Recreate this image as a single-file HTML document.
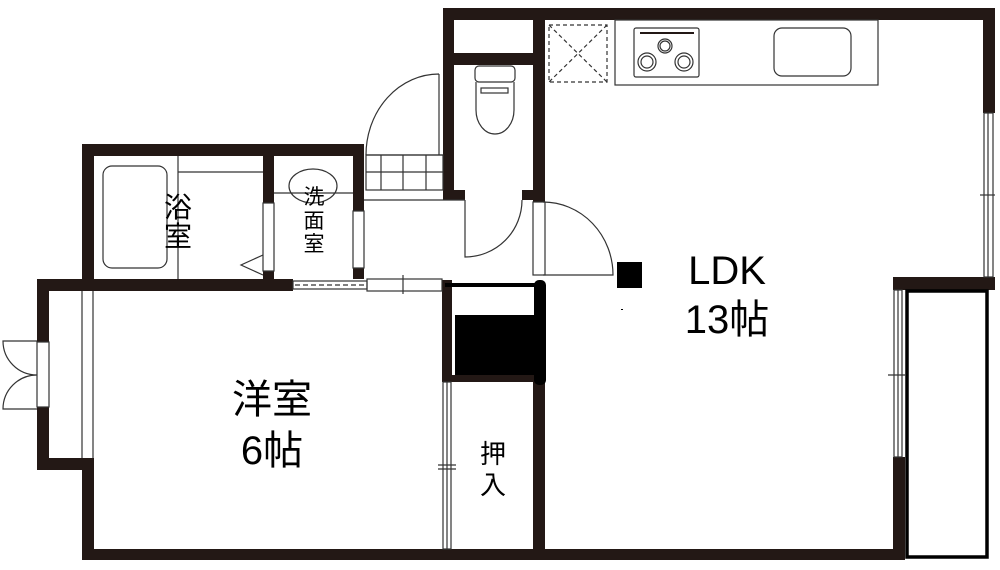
<!DOCTYPE html>
<html><head><meta charset="utf-8"><style>
html,body{margin:0;padding:0;background:#fff;}
svg{display:block;}
text{font-family:"Liberation Sans","Noto Sans CJK JP",sans-serif;fill:#000;}
</style></head><body>
<svg width="1000" height="570" viewBox="0 0 1000 570" xmlns="http://www.w3.org/2000/svg">
<g fill="#231815">
<!-- top block -->
<rect x="443" y="8" width="552" height="12"/>
<rect x="443" y="8" width="11" height="192"/>
<rect x="454" y="53" width="79" height="12"/>
<rect x="533" y="8" width="12" height="194"/>
<rect x="983" y="8" width="12" height="105"/>
<rect x="443" y="190" width="22" height="10"/>
<rect x="522" y="190" width="23" height="10"/>
<!-- right stub -->
<rect x="893" y="277" width="102" height="13"/>
<rect x="893" y="457" width="12" height="103"/>
<!-- bath block -->
<rect x="82" y="144" width="282" height="12"/>
<rect x="82" y="144" width="12" height="147"/>
<rect x="263" y="156" width="11" height="47"/>
<rect x="263" y="271" width="11" height="8"/>
<rect x="353" y="144" width="11" height="67"/>
<rect x="353" y="268" width="11" height="11"/>
<!-- western room -->
<rect x="37" y="279" width="256" height="12"/>
<rect x="37" y="279" width="12" height="63"/>
<rect x="37" y="407" width="12" height="63"/>
<rect x="37" y="458" width="57" height="12"/>
<rect x="82" y="458" width="12" height="102"/>
<rect x="82" y="549" width="823" height="11"/>
<rect x="442" y="280" width="10" height="102"/>
<rect x="442" y="375" width="100" height="7"/>
<rect x="533" y="375" width="12" height="180"/>
<!-- closet block -->
<rect x="455" y="315" width="80" height="60" fill="#000"/>
<rect x="534" y="280" width="12" height="105" rx="5" fill="#000"/>
<rect x="445" y="283" width="95" height="4" fill="#000"/>
<rect x="617" y="262" width="25" height="26" fill="#000"/>
<rect x="621" y="309" width="2" height="1" fill="#000"/>
</g>
<g fill="none" stroke="#333" stroke-width="1.2">
<!-- closet top small -->
<!-- toilet -->
<rect x="475" y="66" width="40" height="16" rx="4"/>
<rect x="481" y="88" width="27" height="5"/>
<path d="M476 82 L476 110 A19 24 0 0 0 514 110 L514 82"/>
<!-- entry door -->
<path d="M439 74 L439 155 M366 155 A73 81 0 0 1 439 74"/>
<line x1="366" y1="155" x2="443" y2="155"/>
<!-- tiles -->
<rect x="366" y="155" width="77" height="35"/>
<line x1="366" y1="172" x2="443" y2="172"/>
<line x1="381" y1="155" x2="381" y2="190"/><line x1="403" y1="155" x2="403" y2="190"/><line x1="426" y1="155" x2="426" y2="190"/>
<line x1="364" y1="200" x2="465" y2="200"/>
<!-- toilet door -->
<path d="M465 200 L465 257 A57 57 0 0 0 522 200"/>
<!-- bath -->
<rect x="103" y="166" width="64" height="102" rx="9"/>
<line x1="178" y1="156" x2="178" y2="279"/>
<line x1="178" y1="172" x2="263" y2="172"/>
<path d="M263 255 L241 265 L263 275"/>
<rect x="263" y="203" width="11" height="68"/>
<!-- wash -->
<ellipse cx="313" cy="186" rx="24" ry="17"/>
<line x1="274" y1="193" x2="353" y2="193"/>
<rect x="353" y="211" width="11" height="57"/>
<!-- top wall of western: dashed + window -->
<rect x="293" y="281" width="74" height="8"/>
<line x1="295" y1="285" x2="365" y2="285" stroke-dasharray="5 3"/>
<rect x="367" y="279" width="75" height="12"/>
<line x1="403" y1="275" x2="403" y2="294"/>
<!-- western left window/door -->
<line x1="82" y1="291" x2="82" y2="458"/>
<line x1="93" y1="291" x2="93" y2="458"/>
<rect x="37" y="342" width="12" height="65"/>
<path d="M37 341 L3 341 A34 34 0 0 0 37 375 A34 34 0 0 0 3 409 L37 409"/>
<!-- right side windows of western/closet -->
<rect x="443" y="382" width="8" height="167"/>
<line x1="447" y1="382" x2="447" y2="549"/>
<line x1="438" y1="465" x2="456" y2="465"/>
<line x1="438" y1="469" x2="456" y2="469"/>
<!-- LDK door -->
<rect x="533" y="202" width="12" height="73"/>
<path d="M543 202 A70 73 0 0 1 613 275 L543 275"/>
<!-- LDK right window -->
<rect x="984" y="113" width="9" height="164"/>
<line x1="988" y1="113" x2="988" y2="277"/>
<line x1="980" y1="195" x2="995" y2="195"/>
<!-- balcony window -->
<rect x="894" y="290" width="8" height="167"/>
<line x1="898" y1="290" x2="898" y2="457"/>
<line x1="888" y1="375" x2="905" y2="375"/>
<!-- kitchen -->
<rect x="615" y="20" width="263" height="65"/>
<rect x="634" y="28" width="65" height="49" rx="2"/>
<rect x="774" y="28" width="77" height="48" rx="8"/>
<rect x="549" y="25" width="58" height="57" stroke-dasharray="4 3"/>
<line x1="549" y1="25" x2="607" y2="82" stroke-dasharray="4 3"/>
<line x1="607" y1="25" x2="549" y2="82" stroke-dasharray="4 3"/>
<circle cx="665" cy="46" r="5"/><circle cx="665" cy="46" r="7"/>
<circle cx="647" cy="62" r="6"/><circle cx="647" cy="62" r="9"/>
<circle cx="684" cy="62" r="6"/><circle cx="684" cy="62" r="9"/>
</g>
<line x1="640" y1="33" x2="694" y2="33" stroke="#231815" stroke-width="2"/>
<rect x="907" y="291" width="80" height="266" fill="none" stroke="#000" stroke-width="3.5"/>
<!-- labels -->
<text x="727" y="284" font-size="40" text-anchor="middle">LDK</text>
<text x="727" y="333" font-size="40" text-anchor="middle">13帖</text>
<text x="272" y="413" font-size="40" text-anchor="middle">洋室</text>
<text x="272" y="464" font-size="40" text-anchor="middle">6帖</text>
<text x="178" y="217" font-size="28" text-anchor="middle">浴</text>
<text x="178" y="246" font-size="28" text-anchor="middle">室</text>
<text x="314" y="204" font-size="21" text-anchor="middle">洗</text>
<text x="314" y="228" font-size="21" text-anchor="middle">面</text>
<text x="314" y="251" font-size="21" text-anchor="middle">室</text>
<text x="493" y="463" font-size="26" text-anchor="middle">押</text>
<text x="493" y="494" font-size="26" text-anchor="middle">入</text>
</svg>
</body></html>
